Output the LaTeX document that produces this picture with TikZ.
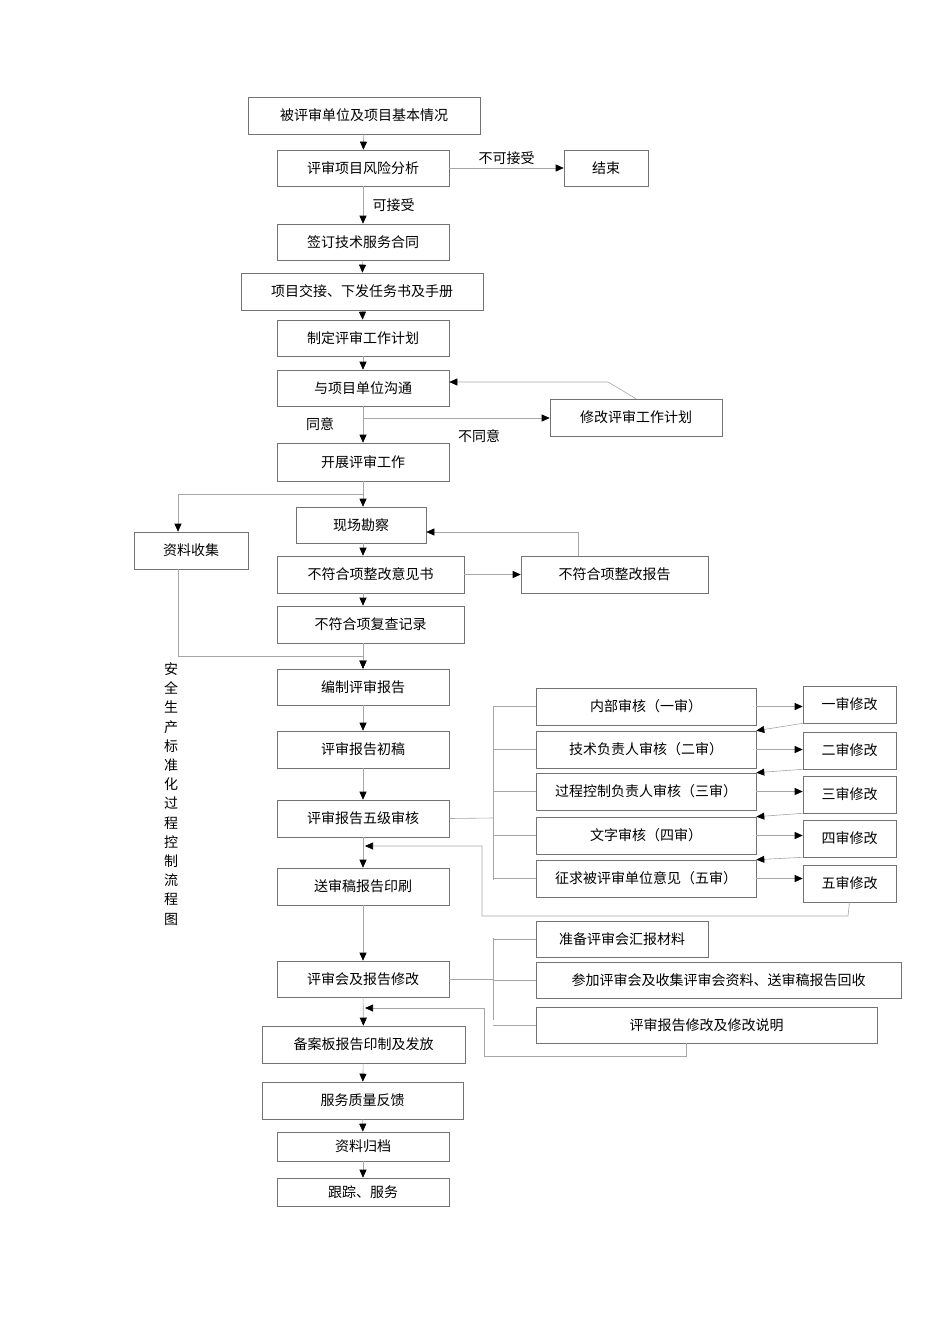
\documentclass[tikz,border=0pt]{standalone}
\usepackage{fontspec}
\newfontfamily\cjk{Noto Sans CJK SC}
\usetikzlibrary{arrows.meta}
\begin{document}
\begin{tikzpicture}[x=1pt,y=-1pt,
 bx/.style={draw=black!55,line width=0.6pt,font=\cjk\fontsize{14}{16}\selectfont,inner sep=0pt},
 ln/.style={draw=black!35,line width=0.6pt},
 ar/.style={ln,-{Triangle[length=8pt,width=7pt,black]}},
 lb/.style={font=\cjk\fontsize{14}{16}\selectfont}]
\useasboundingbox (0,0) rectangle (950,1344);
\newcommand{\bb}[6]{\node[bx,minimum width={#4-#2},minimum height={#5-#3}] (#1) at ({(#2+#4)/2},{(#3+#5)/2}) {#6};}
\bb{A}{248}{97}{480}{134}{被评审单位及项目基本情况}
\bb{B}{277}{150}{449}{186}{评审项目风险分析}
\bb{End}{564}{150}{648}{186}{结束}
\bb{C}{277}{224}{449}{260}{签订技术服务合同}
\bb{D}{241}{273}{483}{310}{项目交接、下发任务书及手册}
\bb{E}{277}{320}{449}{356}{制定评审工作计划}
\bb{F}{277}{370}{449}{406}{与项目单位沟通}
\bb{G}{550}{399}{722}{436}{修改评审工作计划}
\bb{H}{277}{443}{449}{481}{开展评审工作}
\bb{I}{296}{507}{426}{543}{现场勘察}
\bb{J}{134}{532}{248}{569}{资料收集}
\bb{K}{277}{556}{464}{593}{不符合项整改意见书}
\bb{L}{521}{556}{708}{593}{不符合项整改报告}
\bb{M}{277}{606}{464}{643}{不符合项复查记录}
\bb{N}{277}{669}{449}{705}{编制评审报告}
\bb{O}{277}{731}{449}{768}{评审报告初稿}
\bb{P}{277}{800}{449}{837}{评审报告五级审核}
\bb{Q}{277}{868}{449}{905}{送审稿报告印刷}
\bb{R}{277}{961}{449}{997}{评审会及报告修改}
\bb{S}{262}{1026}{465}{1063}{备案板报告印制及发放}
\bb{T}{262}{1082}{463}{1119}{服务质量反馈}
\bb{U}{277}{1132}{449}{1161}{资料归档}
\bb{V}{277}{1178}{449}{1206}{跟踪、服务}
\bb{R1}{536}{688}{756}{725}{内部审核（一审）}
\bb{R2}{536}{731}{756}{768}{技术负责人审核（二审）}
\bb{R3}{536}{773}{756}{810}{过程控制负责人审核（三审）}
\bb{R4}{536}{817}{756}{854}{文字审核（四审）}
\bb{R5}{536}{860}{756}{897}{征求被评审单位意见（五审）}
\bb{E1}{803}{686}{896}{723}{一审修改}
\bb{E2}{803}{732}{896}{769}{二审修改}
\bb{E3}{803}{776}{896}{813}{三审修改}
\bb{E4}{803}{820}{896}{857}{四审修改}
\bb{E5}{803}{865}{896}{902}{五审修改}
\bb{M1}{536}{921}{708}{957}{准备评审会汇报材料}
\bb{M2}{536}{962}{901}{998}{参加评审会及收集评审会资料、送审稿报告回收}
\bb{M3}{536}{1007}{877}{1043}{评审报告修改及修改说明}
% main flow
\draw[ar] (A) -- (B);
\draw[ar] (B) -- node[lb,above]{不可接受} (End);
\draw[ar] (B) -- node[lb,right,xshift=6pt]{可接受} (C);
\draw[ar] (C) -- (D);
\draw[ar] (D) -- (E);
\draw[ar] (E) -- (F);
\draw[ar] (F) -- (H);
\node[lb] (ty) at (320,424) {同意};
\node[lb] (bty) at (479,436) {不同意};
\coordinate (f1) at (363,418);
\draw[ar] (f1) -- (G.west|-f1);
\draw[ar] (G.north) -- (608,382) -- (F.east|-0,382);
\coordinate (h1) at (363,494);
\draw[ln] (H.south) -- (h1);
\draw[ar] (h1) -- (178,494) -- (J.north-|178,0);
\draw[ar] (h1) -- (I.north-|h1);
\draw[ar] (K) -- (L);
\draw[ar] (L.north-|578,0) -- (578,532) -- (I.east|-0,532);
\draw[ar] (I.south-|363,0) -- (K.north-|363,0);
\draw[ar] (K.south-|363,0) -- (M.north-|363,0);
\draw[ar] (M.south-|363,0) -- (N);
\draw[ar] (J.south-|178,0) -- (178,656) -- (363,656) -- (N);
\draw[ar] (N) -- (O);
\draw[ar] (O) -- (P);
\draw[ar] (P) -- (Q);
\draw[ar] (Q) -- (R);
\draw[ar] (R) -- (S);
\draw[ar] (S) -- (T);
\draw[ar] (T) -- (U);
\draw[ar] (U) -- (V);
% reviews
\draw[ln] (P.east) -- (493,818);
\draw[ln] (493,706) -- (493,880);
\foreach \r in {R1,R2,R3,R4,R5} {\draw[ln] (493,0|-\r) -- (\r.west);}
\foreach \i in {1,...,5} {\draw[ar] (R\i.east) -- (E\i.west|-R\i.east);}
\draw[ar] (E1.south west) -- (R2.north east);
\draw[ar] (E2.south west) -- (R3.north east);
\draw[ar] (E3.south west) -- (R4.north east);
\draw[ar] (E4.south west) -- (R5.north east);
\draw[ar] (E5.south) -- (848,916) -- (482,916) -- (482,846) -- (365,846);
% meeting
\draw[ln] (R.east) -- (493,979);
\draw[ln] (493,938) -- (493,1020);
\foreach \m in {M1,M2,M3} {\draw[ln] (493,0|-\m) -- (\m.west);}
\draw[ar] (M3.south-|686,0) -- (686,1056) -- (484,1056) -- (484,1008) -- (365,1008);
\node[lb,align=center,inner sep=0pt,font=\cjk\fontsize{14}{19.2}\selectfont] (title) at (171,794) {安\\全\\生\\产\\标\\准\\化\\过\\程\\控\\制\\流\\程\\图};
\end{tikzpicture}
\end{document}
